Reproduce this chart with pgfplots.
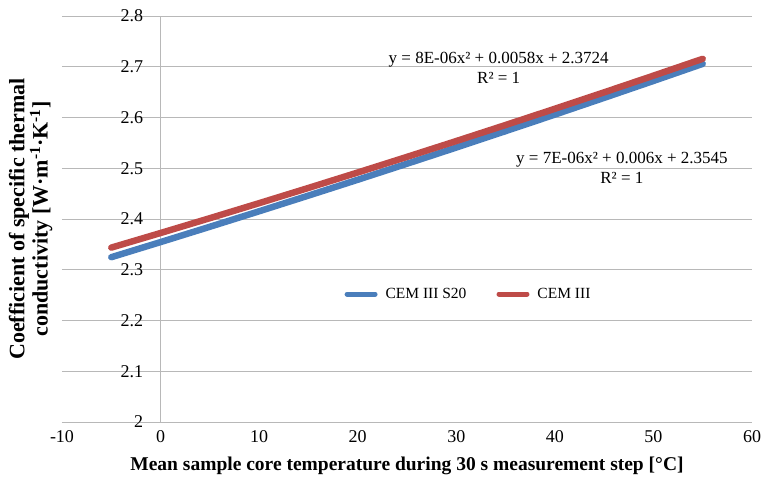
\documentclass[border=0pt]{standalone}
\usepackage{fontspec}
\setmainfont{Liberation Serif}
\usepackage{pgfplots}
\pgfplotsset{compat=1.18}
\definecolor{cemblue}{HTML}{4A7EBB}
\definecolor{cemred}{HTML}{BE4B48}
\definecolor{gridgray}{HTML}{B8B8B8}

% CEM III S20 trend (y = 7E-06x^2 + 0.006x + 2.3545)
\pgfplotstableread{
x y
-5 2.3247
0 2.3545
5 2.3847
10 2.4152
15 2.4461
20 2.4773
25 2.5089
30 2.5408
35 2.5731
40 2.6057
45 2.6387
50 2.6720
55 2.7057
}\cemsXX
% CEM III trend (y = 8E-06x^2 + 0.0058x + 2.3724)
\pgfplotstableread{
x y
-5 2.3436
0 2.3724
5 2.4016
10 2.4312
15 2.4612
20 2.4916
25 2.5224
30 2.5536
35 2.5852
40 2.6172
45 2.6496
50 2.6824
55 2.7156
}\cem

\begin{document}
\begin{tikzpicture}
\begin{axis}[
 scale only axis,width=690bp,height=406bp,
 xmin=-10,xmax=60,ymin=2,ymax=2.8,
 xtick={-10,0,...,60},ytick={2,2.1,...,2.8},
 axis x line=bottom,axis y line=center,
 hide obscured x ticks=false,hide obscured y ticks=false,
 axis line style={-,draw=gridgray},
 ymajorgrids,major grid style={draw=gridgray,line width=0.6pt},
 major tick length=0pt,
 tick label style={font=\fontsize{18bp}{20bp}\selectfont},
 /pgf/number format/assume math mode=true,
 yticklabel style={xshift=-14bp},
 xticklabel style={yshift=-5bp},
 every axis y label/.style={at={([xshift=-6bp]rel axis cs:0,0.5)},rotate=90,anchor=south,align=center,
   font=\bfseries\fontsize{22bp}{21bp}\selectfont},
 every axis x label/.style={at={(rel axis cs:0.5,0)},anchor=north,yshift=-31bp,
   font=\bfseries\fontsize{19.5bp}{21bp}\selectfont},
 ylabel={Coefficient of specific thermal\\conductivity [W·m\textsuperscript{-1}·K\textsuperscript{-1}]},
 xlabel={Mean sample core temperature during 30 s measurement step [°C]},
 legend style={draw=none,fill=none,at={(axis cs:31.24,2.252)},anchor=center,legend columns=2,
   font=\fontsize{15.5bp}{17bp}\selectfont,
   /tikz/every odd column/.append style={column sep=6bp},
   /tikz/every even column/.append style={column sep=28bp}},
 legend image code/.code={\draw[#1,line width=5pt,line cap=round] (0bp,0bp) -- (28bp,0bp);},
 clip=false]
\addplot[cemblue,line width=6.5pt,line cap=round] table {\cemsXX};
\addplot[cemred,line width=6.5pt,line cap=round] table {\cem};
\legend{CEM III S20,CEM III}
\node[font=\fontsize{17bp}{20bp}\selectfont,align=center] at (axis cs:34.3,2.6985)
 {y = 8E-06x² + 0.0058x + 2.3724\\R² = 1};
\node[font=\fontsize{17bp}{20bp}\selectfont,align=center] at (axis cs:46.8,2.5015)
 {y = 7E-06x² + 0.006x + 2.3545\\R² = 1};
\path ([xshift=-62bp,yshift=-54bp]rel axis cs:0,0) rectangle ([xshift=13bp,yshift=16bp]rel axis cs:1,1);
\end{axis}
\end{tikzpicture}
\end{document}
